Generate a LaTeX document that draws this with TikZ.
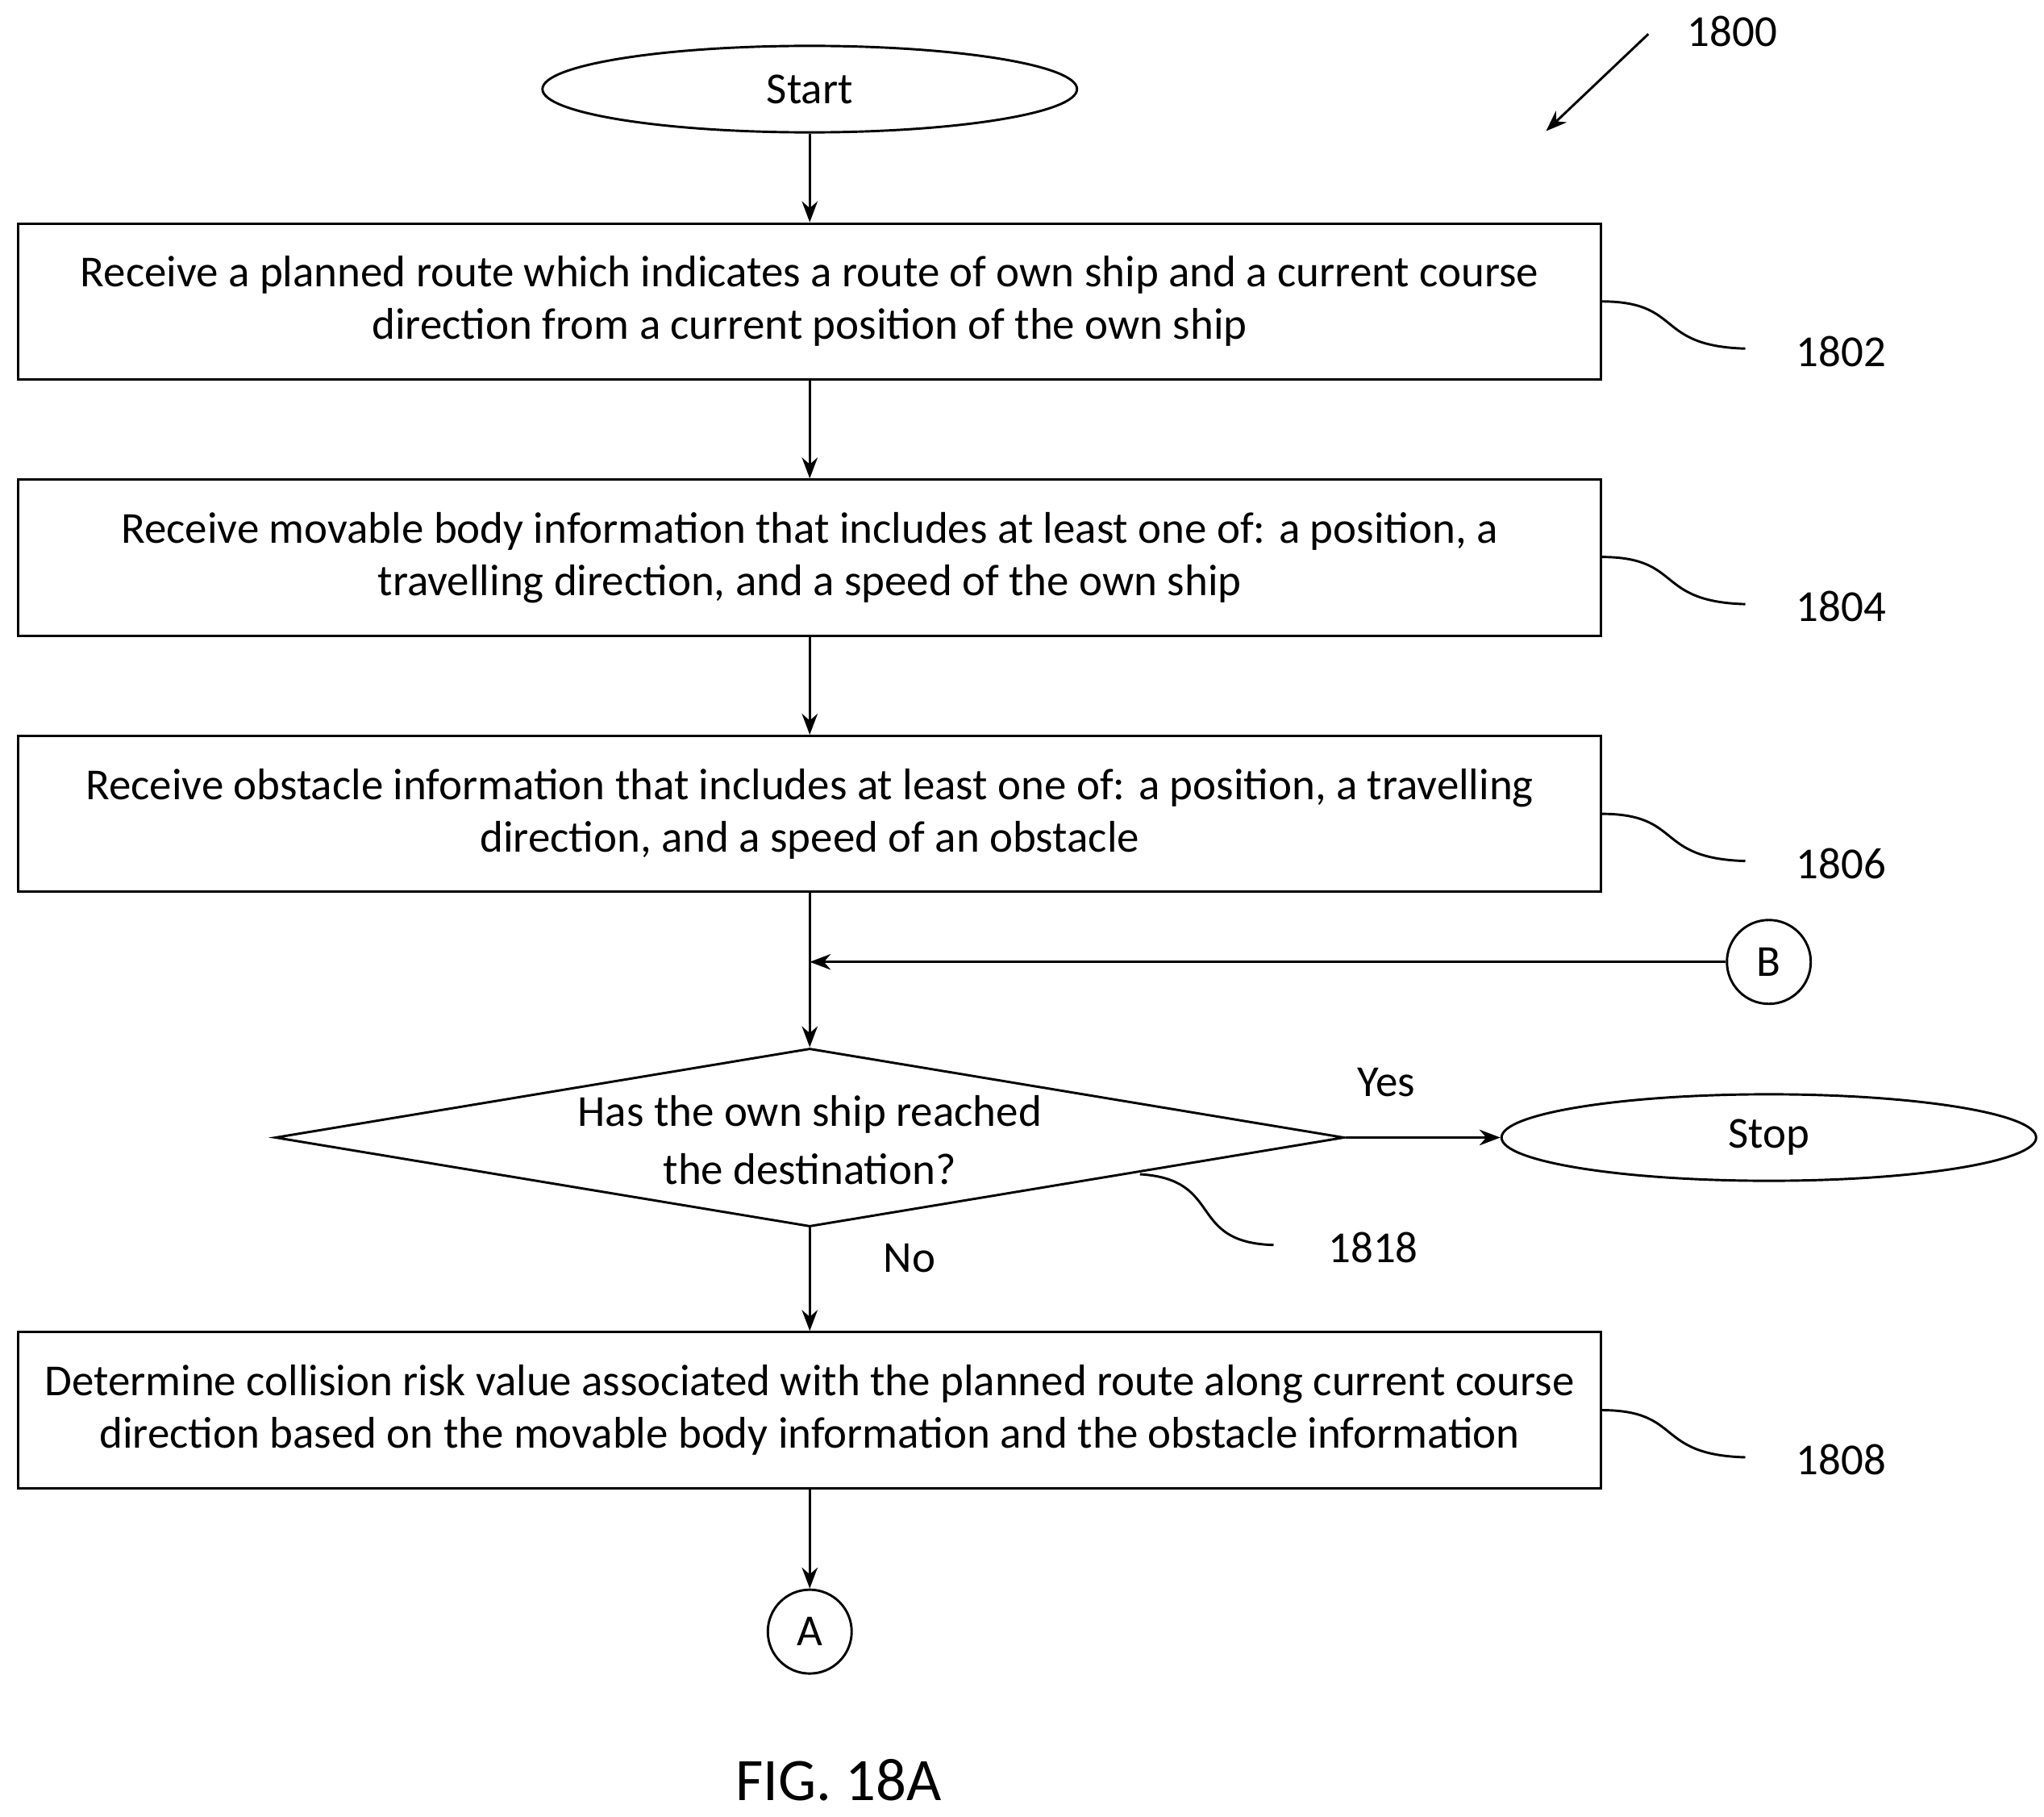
\documentclass[tikz,border=0pt]{standalone}
\usepackage{fontspec}
\setmainfont{Carlito}
\usetikzlibrary{shapes.geometric,arrows.meta}
\begin{document}
\begin{tikzpicture}[x=0.5pt,y=-0.5pt,
  every node/.style={font=\fontsize{16.9}{20}\selectfont},
  box/.style={draw,line width=0.9pt,minimum width=604pt,minimum height=59.5pt,align=center,inner sep=0pt},
  term/.style={draw,ellipse,line width=0.9pt,minimum width=204pt,minimum height=33pt,inner sep=0pt},
  conn/.style={draw,circle,line width=0.9pt,minimum size=32pt,inner sep=0pt},
  arr/.style={-{Stealth[length=8pt,width=6pt]},line width=0.9pt},
  lead/.style={line width=0.9pt}]
\useasboundingbox (0,0) rectangle (1560,1386);
\node[term] (start) at (618,68) {Start};
\node[box] (b1) at (618,230) {Receive a planned route which indicates a route of own ship and a current course\\direction from a current position of the own ship};
\node[box] (b2) at (618,425.5) {Receive movable body information that includes at least one of: a position, a\\travelling direction, and a speed of the own ship};
\node[box] (b3) at (618,621) {Receive obstacle information that includes at least one of: a position, a travelling\\direction, and a speed of an obstacle};
\coordinate (j) at (618,734);
\node[conn] (B) at (1350,734) {B};
\node[diamond,draw,line width=0.9pt,minimum width=408pt,minimum height=68pt,aspect=6,inner sep=0pt,align=center] (d) at (618,868) {};
\node[align=center,font=\fontsize{16.9}{22}\selectfont] at (618,870) {Has the own ship reached\\the destination?};
\node[term] (stop) at (1350,868) {Stop};
\node[box] (b4) at (618,1076) {Determine collision risk value associated with the planned route along current course\\direction based on the movable body information and the obstacle information};
\node[conn] (A) at (618,1245) {A};
\draw[arr] (start) -- (b1);
\draw[arr] (b1) -- (b2);
\draw[arr] (b2) -- (b3);
\draw[line width=0.9pt] (b3) -- (j);
\draw[arr] (B) -- (j);
\draw[arr] (j) -- (d.north);
\draw[arr] (d.east) -- (stop);
\draw[arr] (d.south) -- (b4);
\draw[arr] (b4) -- (A);
\node at (1058,826) {Yes};
\node at (694,960) {No};
\foreach \y/\t in {230/1802,425/1804,621/1806,1076/1808}{
  \draw[lead] (1222,\y) .. controls (1285,\y) and (1262,\y+34) .. (1332,\y+36);
  \node at (1405,\y+38) {\t};
}
\draw[lead] (870,896) .. controls (935,900) and (905,948) .. (972,950);
\node at (1048,952) {1818};
\node at (1322,24) {1800};
\coordinate (p1) at (1258,26);
\coordinate (p2) at (1180,100);
\draw[arr] (p1) -- (p2);
\node[font=\fontsize{23}{26}\selectfont] at (640,1358) {FIG. 18A};
\end{tikzpicture}
\end{document}
